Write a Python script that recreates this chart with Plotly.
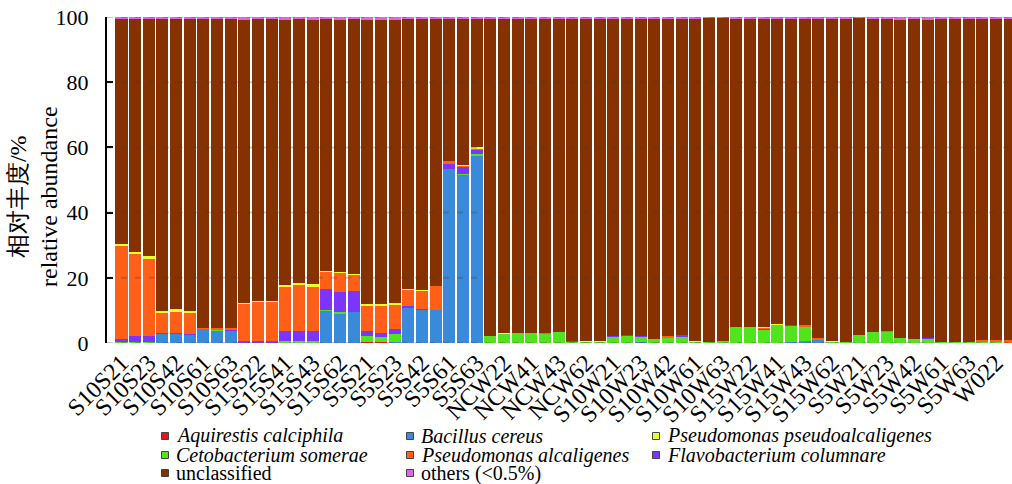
import plotly.graph_objects as go

categories = [
    "S10S21", "S10S22", "S10S23", "S10S41", "S10S42", "S10S43", "S10S61", "S10S62", "S10S63",
    "S15S21", "S15S22", "S15S23", "S15S41", "S15S42", "S15S43", "S15S61", "S15S62", "S15S63",
    "S5S21", "S5S22", "S5S23", "S5S41", "S5S42", "S5S43", "S5S61", "S5S62", "S5S63",
    "NCW21", "NCW22", "NCW23", "NCW41", "NCW42", "NCW43", "NCW61", "NCW62", "NCW63",
    "S10W21", "S10W22", "S10W23", "S10W41", "S10W42", "S10W43", "S10W61", "S10W62", "S10W63",
    "S15W21", "S15W22", "S15W23", "S15W41", "S15W42", "S15W43", "S15W61", "S15W62", "S15W63",
    "S5W21", "S5W22", "S5W23", "S5W41", "S5W42", "S5W43", "S5W61", "S5W62", "S5W63",
    "W021", "W022", "W023",
]

aquirestis = [0, 0, 0, 0, 0, 0, 0, 0, 0,
              0, 0, 0, 0, 0, 0, 0, 0, 0,
              0.2, 0.2, 0, 0, 0, 0, 0, 0, 0,
              0, 0, 0, 0, 0, 0, 0, 0, 0,
              0, 0, 0, 0, 0, 0, 0, 0, 0,
              0, 0, 0, 0, 0, 0, 0, 0, 0,
              0, 0, 0, 0, 0, 0, 0, 0, 0,
              0.3, 0.3, 0.2]
bacillus = [0, 0, 0, 2.8, 2.8, 2.6, 4.3, 3.8, 3.9,
            0, 0, 0, 0, 0, 0, 9.9, 9.1, 9.6,
            0, 0, 0.4, 10.9, 10.2, 10.2, 53.4, 51.6, 57.6,
            0, 0, 0, 0, 0, 0, 0, 0, 0,
            0, 0, 0.3, 0, 0, 0, 0, 0, 0,
            0, 0, 0, 0, 0.45, 0.7, 1.0, 0, 0,
            0, 0, 0, 0, 0, 0, 0, 0, 0,
            0, 0, 0]
cetobacterium = [0.2, 0.2, 0.2, 0, 0, 0, 0, 0.4, 0,
                 0.1, 0, 0, 0.5, 0.5, 0.5, 0.3, 0.3, 0,
                 2.0, 1.7, 2.5, 0, 0, 0, 0, 0.3, 0.3,
                 2.0, 2.9, 3.2, 3.2, 2.9, 3.5, 0.4, 0.4, 0.4,
                 1.9, 2.3, 1.7, 1.35, 1.75, 2.05, 0.4, 0.4, 0.7,
                 5.0, 5.0, 4.1, 5.6, 4.85, 4.3, 0, 0.4, 0.3,
                 2.5, 3.5, 3.5, 1.65, 1.35, 1.35, 0.4, 0.4, 0.4,
                 0.3, 0.3, 0]
flavobacterium = [1.1, 1.8, 1.8, 0.3, 0.3, 0.1, 0, 0, 0.3,
                  0.5, 0.5, 0.6, 3.3, 3.3, 3.3, 6.4, 6.1, 6.5,
                  1.5, 1.2, 1.5, 0.3, 0.3, 0, 1.8, 2.1, 1.6,
                  0, 0, 0, 0, 0, 0, 0.3, 0, 0,
                  0.4, 0.2, 0.2, 0, 0, 0.3, 0, 0, 0,
                  0, 0, 0.3, 0, 0.3, 0, 0, 0, 0,
                  0, 0, 0, 0, 0, 0.3, 0, 0, 0,
                  0, 0, 0]
p_alcaligenes = [28.7, 25.5, 24.0, 6.2, 6.3, 6.4, 0.3, 0.3, 0.3,
                 11.4, 12.1, 12.0, 13.5, 14.1, 13.5, 5.3, 6.1, 4.9,
                 7.7, 8.3, 7.4, 5.2, 5.5, 7.3, 0.6, 0.3, 0.3,
                 0, 0, 0, 0, 0.3, 0, 0, 0, 0,
                 0, 0, 0, 0, 0.3, 0, 0, 0, 0,
                 0, 0, 0.3, 0, 0, 0.6, 0.6, 0, 0,
                 0, 0, 0.3, 0, 0, 0, 0, 0, 0,
                 0.3, 0.3, 0.6]
p_pseudo = [0.35, 0.4, 0.6, 0.6, 1.0, 0.8, 0, 0, 0,
            0.3, 0.3, 0.3, 0.6, 0.6, 0.9, 0.3, 0.1, 0.3,
            0.6, 0.6, 0.4, 0.3, 0.3, 0, 0, 0.3, 0.3,
            0, 0.3, 0, 0, 0, 0, 0, 0.3, 0.3,
            0, 0, 0, 0, 0, 0, 0.3, 0, 0,
            0, 0, 0.3, 0.3, 0, 0, 0, 0.3, 0,
            0, 0, 0, 0, 0, 0, 0, 0, 0,
            0, 0, 0]
unclassified = [68.95, 71.4, 72.7, 89.4, 88.9, 89.4, 94.7, 94.8, 94.8,
                86.7, 86.4, 86.4, 81.1, 80.8, 80.8, 77.1, 77.3, 78.0,
                87.0, 87.0, 86.8, 82.6, 83.0, 81.8, 43.85, 45.05, 39.55,
                97.3, 96.1, 96.1, 96.1, 96.1, 95.8, 98.6, 98.6, 98.6,
                97.0, 96.8, 97.1, 97.95, 97.25, 96.95, 98.6, 99.3, 99.0,
                94.3, 94.3, 94.3, 93.4, 93.7, 93.7, 97.7, 98.6, 99.0,
                97.2, 95.8, 95.5, 97.35, 97.95, 97.35, 98.9, 98.9, 98.9,
                98.4, 98.4, 98.5]
others = [0.7, 0.7, 0.7, 0.7, 0.7, 0.7, 0.7, 0.7, 0.7,
          1.0, 0.7, 0.7, 1.0, 0.7, 1.0, 0.7, 1.0, 0.7,
          1.0, 1.0, 1.0, 0.7, 0.7, 0.7, 0.35, 0.35, 0.35,
          0.7, 0.7, 0.7, 0.7, 0.7, 0.7, 0.7, 0.7, 0.7,
          0.7, 0.7, 0.7, 0.7, 0.7, 0.7, 0.7, 0.3, 0.3,
          0.7, 0.7, 0.7, 0.7, 0.7, 0.7, 0.7, 0.7, 0.7,
          0.3, 0.7, 0.7, 1.0, 0.7, 1.0, 0.7, 0.7, 0.7,
          0.7, 0.7, 0.7]

y_ticks = [0, 20, 40, 60, 80, 100]
y_title = "相对丰度/%<br>relative abundance"

# stacking order (bottom -> top)
series = [
    ("Aquirestis calciphila", aquirestis, "#E3161E", True),
    ("Bacillus cereus", bacillus, "#3A8ADB", True),
    ("Cetobacterium somerae", cetobacterium, "#52E31F", True),
    ("Flavobacterium columnare", flavobacterium, "#7C35FF", True),
    ("Pseudomonas alcaligenes", p_alcaligenes, "#FF5F17", True),
    ("Pseudomonas pseudoalcaligenes", p_pseudo, "#E8FF2E", True),
    ("unclassified", unclassified, "#863100", False),
    ("others (<0.5%)", others, "#E063EE", False),
]
# legend layout order (row-major, 3 columns)
legend_order = [
    "Aquirestis calciphila", "Bacillus cereus", "Pseudomonas pseudoalcaligenes",
    "Cetobacterium somerae", "Pseudomonas alcaligenes", "Flavobacterium columnare",
    "unclassified", "others (<0.5%)",
]

SERIF = "Liberation Serif"

W, H = 1012, 484
ML, MR, MT, MB = 107, 0, 17, 141
PW, PH = W - ML - MR, H - MT - MB


def px_x(px):
    return (px - ML) / PW


def px_y(py):
    return (H - MB - py) / PH


fig = go.Figure()
for name, vals, color, ital in series:
    fig.add_trace(go.Bar(
        x=categories, y=vals, name=name, marker_color=color,
        marker_line_width=0, showlegend=False,
    ))

# dashed grid drawn over the bars
shapes = []
for t in y_ticks:
    shapes.append(dict(type="line", xref="paper", yref="y", x0=0, x1=1, y0=t, y1=t,
                       layer="above", line=dict(color="rgba(60,60,60,0.28)", width=2, dash="6px,8px")))

# manual legend (3 columns)
annotations = []
col_x = [165, 410, 656]
row_y = [436, 455, 473]
info = {n: (c, it) for n, _, c, it in series}
for k, name in enumerate(legend_order):
    color, ital = info[name]
    cx, cy = col_x[k % 3], row_y[k // 3]
    shapes.append(dict(type="rect", xref="paper", yref="paper",
                       x0=px_x(cx - 3.5), x1=px_x(cx + 3.5), y0=px_y(cy + 3.5), y1=px_y(cy - 3.5),
                       fillcolor=color, line=dict(color="#444", width=1)))
    label = name.replace("<", "&lt;")
    text = f"<i>{label}</i>" if ital else label
    annotations.append(dict(xref="paper", yref="paper", x=px_x(cx + 9), y=px_y(cy),
                            xanchor="left", yanchor="middle", text=text, showarrow=False,
                            font=dict(family=SERIF, size=20, color="black")))

annotations.append(dict(xref="paper", yref="paper", x=px_x(34), y=px_y(197), xanchor="center",
                        yanchor="middle", text=y_title, textangle=-90, showarrow=False,
                        font=dict(family=SERIF, size=24, color="black")))

fig.update_layout(
    width=W, height=H,
    margin=dict(l=ML, r=MR, t=MT, b=MB, pad=0),
    barmode="stack", bargap=0.12,
    plot_bgcolor="white", paper_bgcolor="white",
    showlegend=False,
    shapes=shapes, annotations=annotations,
    font=dict(family=SERIF, color="black"),
)
fig.update_xaxes(
    type="category", categoryorder="array", categoryarray=categories,
    range=[-1.06, len(categories) - 0.83],
    tickmode="array", tickvals=categories[::2], ticktext=categories[::2],
    tickangle=-45, tickfont=dict(family=SERIF, size=24, color="black"),
    showgrid=False, showline=False, ticks="", zeroline=False,
)
fig.update_yaxes(
    range=[0, 100], tickvals=y_ticks, ticktext=[str(t) for t in y_ticks],
    tickfont=dict(family=SERIF, size=22, color="black"),
    showgrid=False, zeroline=False, showline=True, linecolor="black", linewidth=2,
    ticks="inside", ticklen=6, tickwidth=2, tickcolor="black", ticklabelstandoff=12,
)

fig.write_html("out.html")
